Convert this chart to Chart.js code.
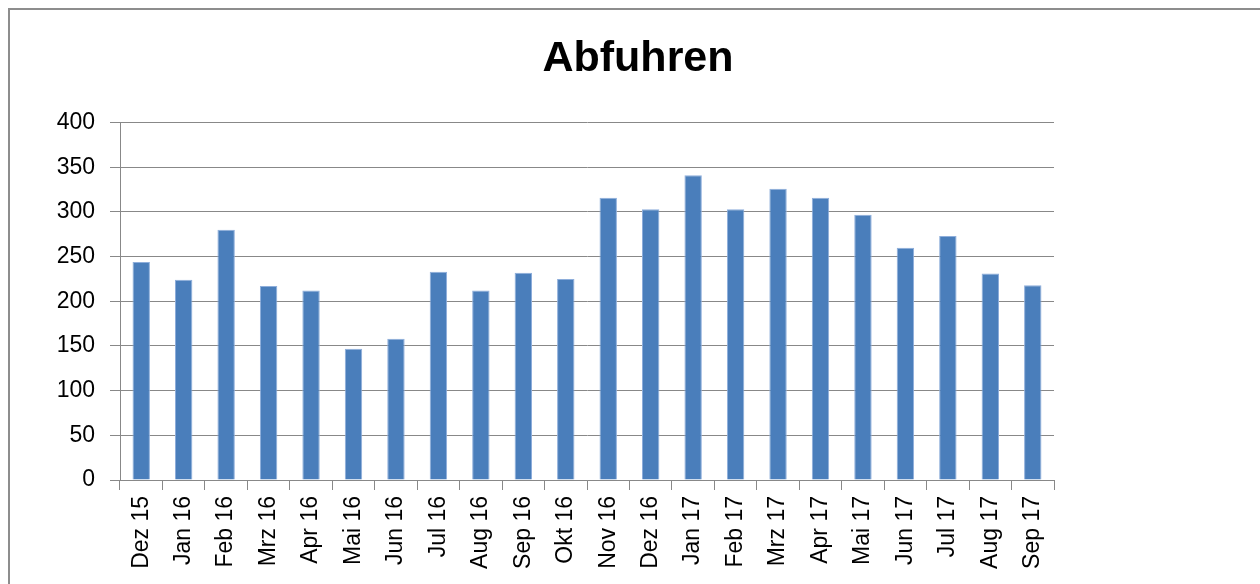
<!DOCTYPE html>
<html>
<head>
<meta charset="utf-8">
<script src="https://cdn.jsdelivr.net/npm/chart.js@4.4.1/dist/chart.umd.min.js"></script>
<style>
  html, body { margin: 0; padding: 0; background: #ffffff; overflow: hidden; }
  #wrap { position: relative; width: 1260px; height: 584px; }
  #frame { position: absolute; left: 8px; top: 8px; width: 1400px; height: 800px;
           border: 2px solid #8d8d8d; box-sizing: border-box; }
  canvas { position: absolute; left: 0; top: 0; }
</style>
</head>
<body>
<div id="wrap">
  <div id="frame"></div>
  <canvas id="c" width="1260" height="584"></canvas>
</div>
<script>
const titleText = 'Abfuhren';
const categories = ['Dez 15','Jan 16','Feb 16','Mrz 16','Apr 16','Mai 16','Jun 16','Jul 16','Aug 16','Sep 16','Okt 16',
                    'Nov 16','Dez 16','Jan 17','Feb 17','Mrz 17','Apr 17','Mai 17','Jun 17','Jul 17','Aug 17','Sep 17'];
const abfuhren = [244, 224, 280, 217, 212, 147, 158, 233, 212, 232, 225,
                  316, 303, 341, 303, 326, 316, 297, 260, 273, 231, 218];
const yMin = 0, yMax = 400, yStep = 50;

const gridColor = '#888888';
const fontFamily = "'Liberation Sans', Arial, sans-serif";

new Chart(document.getElementById('c'), {
  type: 'bar',
  data: {
    labels: categories,
    datasets: [{
      label: titleText,
      data: abfuhren,
      backgroundColor: '#4a7ebb',
      borderColor: '#8eaedb',
      borderWidth: 1,
      barPercentage: 0.41,
      categoryPercentage: 1.0
    }]
  },
  options: {
    responsive: false,
    animation: false,
    layout: { padding: { left: 16, right: 0, top: 0, bottom: 0 } },
    plugins: {
      legend: { display: false },
      tooltip: { enabled: false },
      title: {
        display: true,
        text: titleText,
        color: '#000000',
        font: { family: fontFamily, size: 43, weight: 'bold' },
        padding: { top: 33, bottom: 38 }
      }
    },
    scales: {
      x: {
        grid: { display: true, drawOnChartArea: false, drawTicks: true, tickLength: 10, color: gridColor, offset: true },
        border: { display: true, color: gridColor },
        ticks: { color: '#000000', font: { family: fontFamily, size: 23 }, minRotation: 90, maxRotation: 90, padding: 6, autoSkip: false },
        afterFit: (s) => { s.height = 104; }
      },
      y: {
        min: yMin, max: yMax,
        grid: { color: gridColor, tickLength: 10, drawTicks: true },
        border: { display: true, color: gridColor },
        ticks: { stepSize: yStep, color: '#000000', font: { family: fontFamily, size: 23 }, padding: 15 },
        afterFit: (s) => { s.width = 104; }
      },
      yRight: {
        position: 'right',
        display: true,
        grid: { display: false },
        border: { display: false },
        ticks: { display: false },
        afterFit: (s) => { s.width = 206; }
      }
    }
  }
});
</script>
</body>
</html>
